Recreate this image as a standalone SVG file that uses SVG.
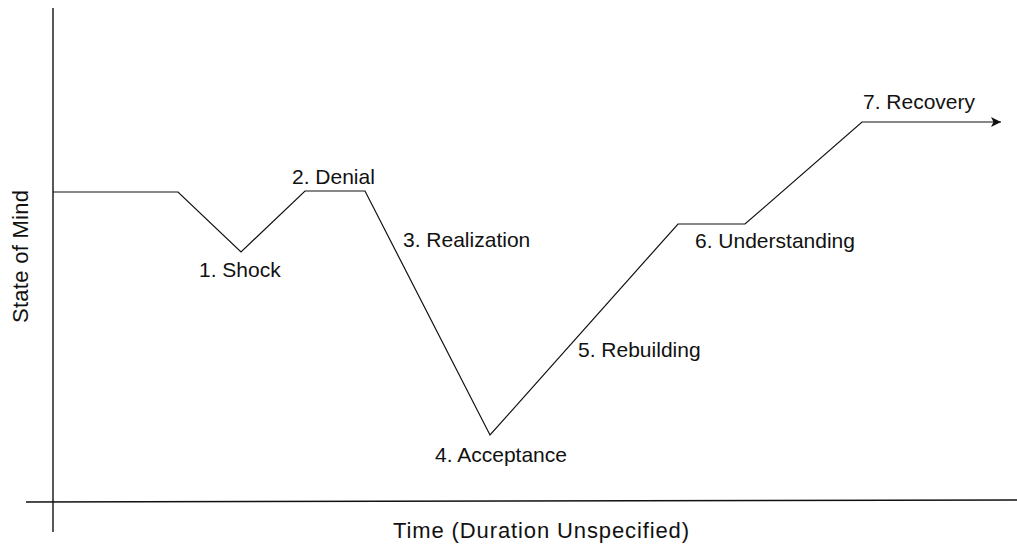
<svg xmlns="http://www.w3.org/2000/svg" width="1017" height="544" viewBox="0 0 1017 544">
<style>
text{font-family:"Liberation Sans",Arial,sans-serif;font-size:21px;fill:#111}
.axl{font-size:22px}
.ax{stroke:#111;stroke-width:1.4;fill:none}
.ln{stroke:#111;stroke-width:1.2;fill:none}
</style>
<defs>
<marker id="arr" viewBox="0 0 10 10" refX="10" refY="5" markerWidth="15" markerHeight="10" markerUnits="userSpaceOnUse" orient="auto">
<path d="M0,0 L10,5 L0,10 L2.5,5 Z" fill="#111"/>
</marker>
</defs>
<rect width="1017" height="544" fill="#fff"/>
<g id="axes">
<line class="ax" x1="53" y1="8" x2="53" y2="532"/>
<line class="ax" x1="26" y1="502" x2="1017" y2="500"/>
<text id="x-label" class="axl" x="393" y="538" textLength="296" lengthAdjust="spacing">Time (Duration Unspecified)</text>
<text id="y-label" class="axl" transform="translate(28,323) rotate(-90)" textLength="133" lengthAdjust="spacing">State of Mind</text>
</g>
<g id="connectors">
<polyline class="ln" points="53,192 178,192 241,252 305,191 365,191 490,435 678,224 745,224 862,122 1001,122" marker-end="url(#arr)"/>
</g>
<g id="shock"><text x="199" y="277">1. Shock</text></g>
<g id="denial"><text x="292" y="184">2. Denial</text></g>
<g id="realization"><text x="403" y="247">3. Realization</text></g>
<g id="acceptance"><text x="435" y="462">4. Acceptance</text></g>
<g id="rebuilding"><text x="578" y="357">5. Rebuilding</text></g>
<g id="understanding"><text x="695" y="248">6. Understanding</text></g>
<g id="recovery"><text x="863" y="109">7. Recovery</text></g>
</svg>
